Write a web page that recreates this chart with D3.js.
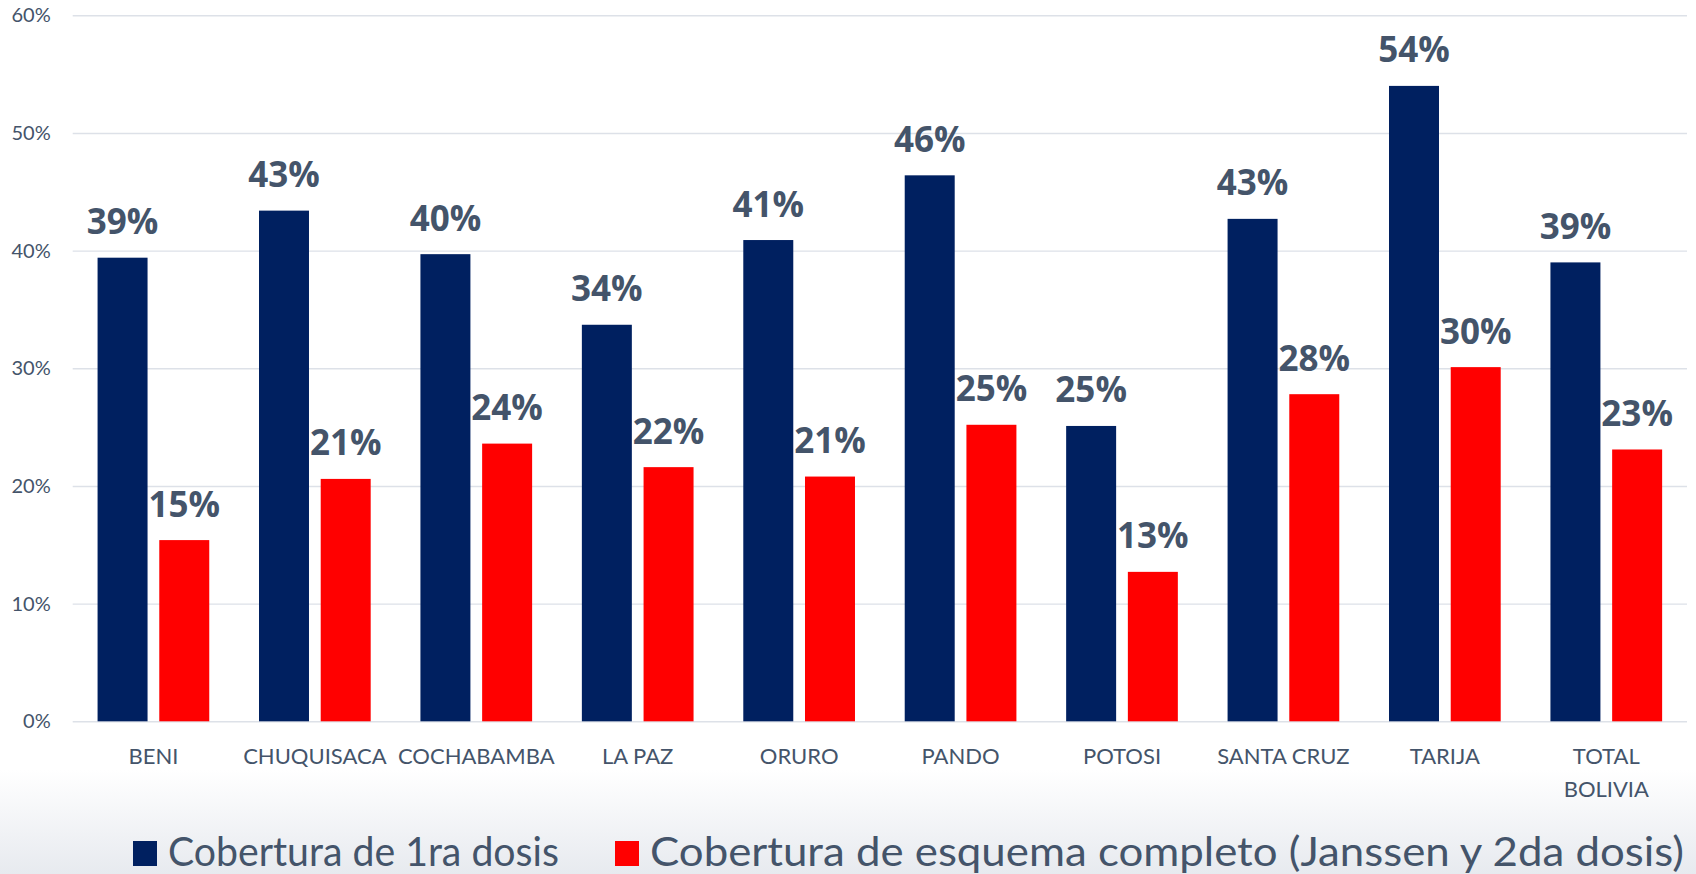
<!DOCTYPE html>
<html lang="es">
<head>
  <meta charset="UTF-8">
  <title>Cobertura de vacunación</title>
  <script src="https://d3js.org/d3.v7.min.js"></script>
  <style>
    body { margin: 0; background: #fff; }
    .axis text { font-family: Lato, sans-serif; fill: #44546A; }
    .label { font-family: "Open Sans", sans-serif; font-weight: 700; fill: #44546A; }
    .legend text { font-family: Lato, sans-serif; fill: #44546A; }
  </style>
</head>
<body>
  <svg width="1696" height="874"></svg>
  <script>
    // data (percent)
    const departamentos = ["BENI", "CHUQUISACA", "COCHABAMBA", "LA PAZ", "ORURO", "PANDO", "POTOSI", "SANTA CRUZ", "TARIJA", "TOTAL BOLIVIA"];
    const primeraDosis = [39.4, 43.4, 39.7, 33.7, 40.9, 46.4, 25.1, 42.7, 54.0, 39.0];
    const esquemaCompleto = [15.4, 20.6, 23.6, 21.6, 20.8, 25.2, 12.7, 27.8, 30.1, 23.1];
    const series = ["Cobertura de 1ra dosis", "Cobertura de esquema completo (Janssen y 2da dosis)"];
    const colores = ["#002060", "#FF0000"];
    const yTicks = [0, 10, 20, 30, 40, 50, 60];

    const data = departamentos.map((d, i) => ({ dep: d, valores: [primeraDosis[i], esquemaCompleto[i]] }));

    const svg = d3.select("svg");
    const plotLeft = 72.7, plotRight = 1687, plotTop = 15.3, plotBottom = 721.3;

    // background fade at the bottom
    const defs = svg.append("defs");
    const grad = defs.append("linearGradient").attr("id", "fondo")
      .attr("x1", 0).attr("y1", 0).attr("x2", 0).attr("y2", 1);
    grad.append("stop").attr("offset", "0%").attr("stop-color", "#ffffff");
    grad.append("stop").attr("offset", "100%").attr("stop-color", "#e7eaef");
    svg.append("rect").attr("x", 0).attr("y", 770).attr("width", 1696).attr("height", 104)
      .attr("fill", "url(#fondo)");

    const x0 = d3.scaleBand().domain(departamentos).range([plotLeft, plotRight]);
    const x1 = d3.scaleBand().domain(series).range([0, x0.bandwidth()])
      .paddingInner(0.19).paddingOuter(0.403);
    const y = d3.scaleLinear().domain([0, 60]).range([plotBottom, plotTop]);

    // gridlines
    svg.append("g")
      .attr("transform", `translate(${plotLeft},0)`)
      .call(d3.axisLeft(y).tickValues(yTicks).tickSize(-(plotRight - plotLeft)).tickFormat(""))
      .call(g => g.select(".domain").remove())
      .call(g => g.selectAll("line").attr("stroke", "#dde1e8").attr("stroke-width", 1.4));

    // y axis labels
    svg.append("g")
      .attr("class", "axis")
      .attr("transform", `translate(${plotLeft},0)`)
      .call(d3.axisLeft(y).tickValues(yTicks).tickSize(0).tickPadding(22).tickFormat(d => d + "%"))
      .call(g => g.select(".domain").remove())
      .call(g => g.selectAll("text").style("font-size", "20px"));

    // bars
    const grupos = svg.selectAll(".grupo")
      .data(data)
      .enter().append("g")
      .attr("class", "grupo")
      .attr("transform", d => `translate(${x0(d.dep)},0)`);

    grupos.selectAll("rect")
      .data(d => d.valores.map((v, i) => ({ serie: series[i], v: v, i: i })))
      .enter().append("rect")
      .attr("x", d => x1(d.serie))
      .attr("y", d => y(d.v))
      .attr("width", x1.bandwidth())
      .attr("height", d => plotBottom - y(d.v))
      .attr("fill", d => colores[d.i]);

    grupos.selectAll("text")
      .data(d => d.valores.map((v, i) => ({ serie: series[i], v: v })))
      .enter().append("text")
      .attr("class", "label")
      .attr("x", d => x1(d.serie) + x1.bandwidth() / 2)
      .attr("y", d => y(d.v) - 23.5)
      .attr("text-anchor", "middle")
      .style("font-size", "35px")
      .text(d => Math.round(d.v) + "%");

    // x axis labels
    const xAxis = svg.append("g")
      .attr("class", "axis")
      .attr("transform", `translate(0,${plotBottom})`)
      .call(d3.axisBottom(x0).tickSize(0))
      .call(g => g.select(".domain").remove());
    xAxis.selectAll("text")
      .style("font-size", "22px")
      .attr("y", 43)
      .attr("dy", 0)
      .each(function(d) {
        const t = d3.select(this);
        const palabras = d === "TOTAL BOLIVIA" ? ["TOTAL", "BOLIVIA"] : [d];
        t.text(null);
        palabras.forEach((p, i) => {
          t.append("tspan").attr("x", 0).attr("dy", i === 0 ? 0 : 33).text(p);
        });
      });

    // legend
    const legend = svg.append("g").attr("class", "legend");
    const legendX = [133, 615];
    const legendW = [391, 1034];
    series.forEach((s, i) => {
      legend.append("rect")
        .attr("x", legendX[i]).attr("y", 841)
        .attr("width", 24).attr("height", 25)
        .attr("fill", colores[i]);
      legend.append("text")
        .attr("x", legendX[i] + 35).attr("y", 866)
        .attr("textLength", legendW[i])
        .attr("lengthAdjust", "spacingAndGlyphs")
        .style("font-size", "40px")
        .text(s);
    });
  </script>
</body>
</html>
